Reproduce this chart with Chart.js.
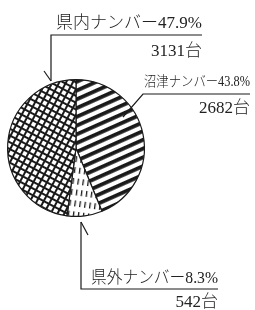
<!DOCTYPE html>
<html>
<head>
<meta charset="utf-8">
<script src="https://cdn.jsdelivr.net/npm/chart.js@4"></script>
<style>
  html, body { margin: 0; padding: 0; background: #fff; }
  #wrap { position: relative; width: 255px; height: 310px; }
</style>
</head>
<body>
<div id="wrap"><canvas id="chart" width="255" height="310"></canvas></div>
<script>
// slices, clockwise from the top
const names = ['沼津ナンバー', '県外ナンバー', '県内ナンバー'];
const percents = [43.8, 8.3, 47.9];
const counts = [2682, 542, 3131];

const ink = '#1a1a1a';

function makePattern(w, h, draw, angle) {
    const c = document.createElement('canvas');
    c.width = w; c.height = h;
    const g = c.getContext('2d');
    g.fillStyle = '#fff';
    g.fillRect(0, 0, w, h);
    g.fillStyle = ink;
    draw(g);
    const p = document.getElementById('chart').getContext('2d').createPattern(c, 'repeat');
    p.setTransform(new DOMMatrix().rotateSelf(angle));
    return p;
}

// wide diagonal stripes
const stripes = makePattern(8, 8, g => { g.fillRect(0, 0, 8, 3.8); }, -24);
// short dashes
const dashes = makePattern(5, 11, g => { g.fillRect(2, 1, 1.3, 6); }, 8);
// square grid
const grid = makePattern(6, 6, g => {
    g.fillRect(0, 0, 6, 2);
    g.fillRect(0, 0, 2, 6);
}, 28);

// text labels with leader lines
const calloutPlugin = {
    id: 'callouts',
    afterDraw(chart) {
        const ctx = chart.ctx;
        ctx.save();
        ctx.strokeStyle = ink;
        ctx.fillStyle = '#222';
        ctx.lineWidth = 1.2;
        ctx.textAlign = 'right';
        ctx.textBaseline = 'alphabetic';
        const serif = '"Liberation Serif", "Noto Sans CJK JP", serif';

        function line(pts) {
            ctx.beginPath();
            ctx.moveTo(pts[0][0], pts[0][1]);
            for (let i = 1; i < pts.length; i++) ctx.lineTo(pts[i][0], pts[i][1]);
            ctx.stroke();
        }

        // 県内
        ctx.font = '300 17px ' + serif;
        ctx.fillText(names[2] + percents[2] + '%', 202, 28, 150);
        ctx.fillText(counts[2] + '台', 202, 56);
        line([[202, 35], [51, 35], [51, 81]]);
        line([[44, 71], [51, 81]]);

        // 沼津
        ctx.font = '300 14px ' + serif;
        ctx.fillText(names[0] + percents[0] + '%', 250, 86, 106);
        ctx.font = '300 17px ' + serif;
        ctx.fillText(counts[0] + '台', 250, 113);
        line([[250, 94], [143, 94], [123, 117]]);

        // 県外
        ctx.font = '300 17px ' + serif;
        ctx.fillText(names[1] + percents[1] + '%', 218, 283, 127);
        ctx.fillText(counts[1] + '台', 218, 307);
        line([[218, 289], [81, 289], [81, 222]]);
        line([[81, 222], [88, 235]]);
        ctx.restore();
    }
};

new Chart(document.getElementById('chart'), {
    type: 'pie',
    data: {
        labels: names,
        datasets: [{
            data: percents,
            backgroundColor: [stripes, dashes, grid],
            borderColor: ink,
            borderWidth: 1.2
        }]
    },
    options: {
        responsive: false,
        animation: false,
        layout: { padding: { left: 7, right: 110, top: 79, bottom: 93 } },
        plugins: { legend: { display: false }, tooltip: { enabled: false } }
    },
    plugins: [calloutPlugin]
});
</script>
</body>
</html>
